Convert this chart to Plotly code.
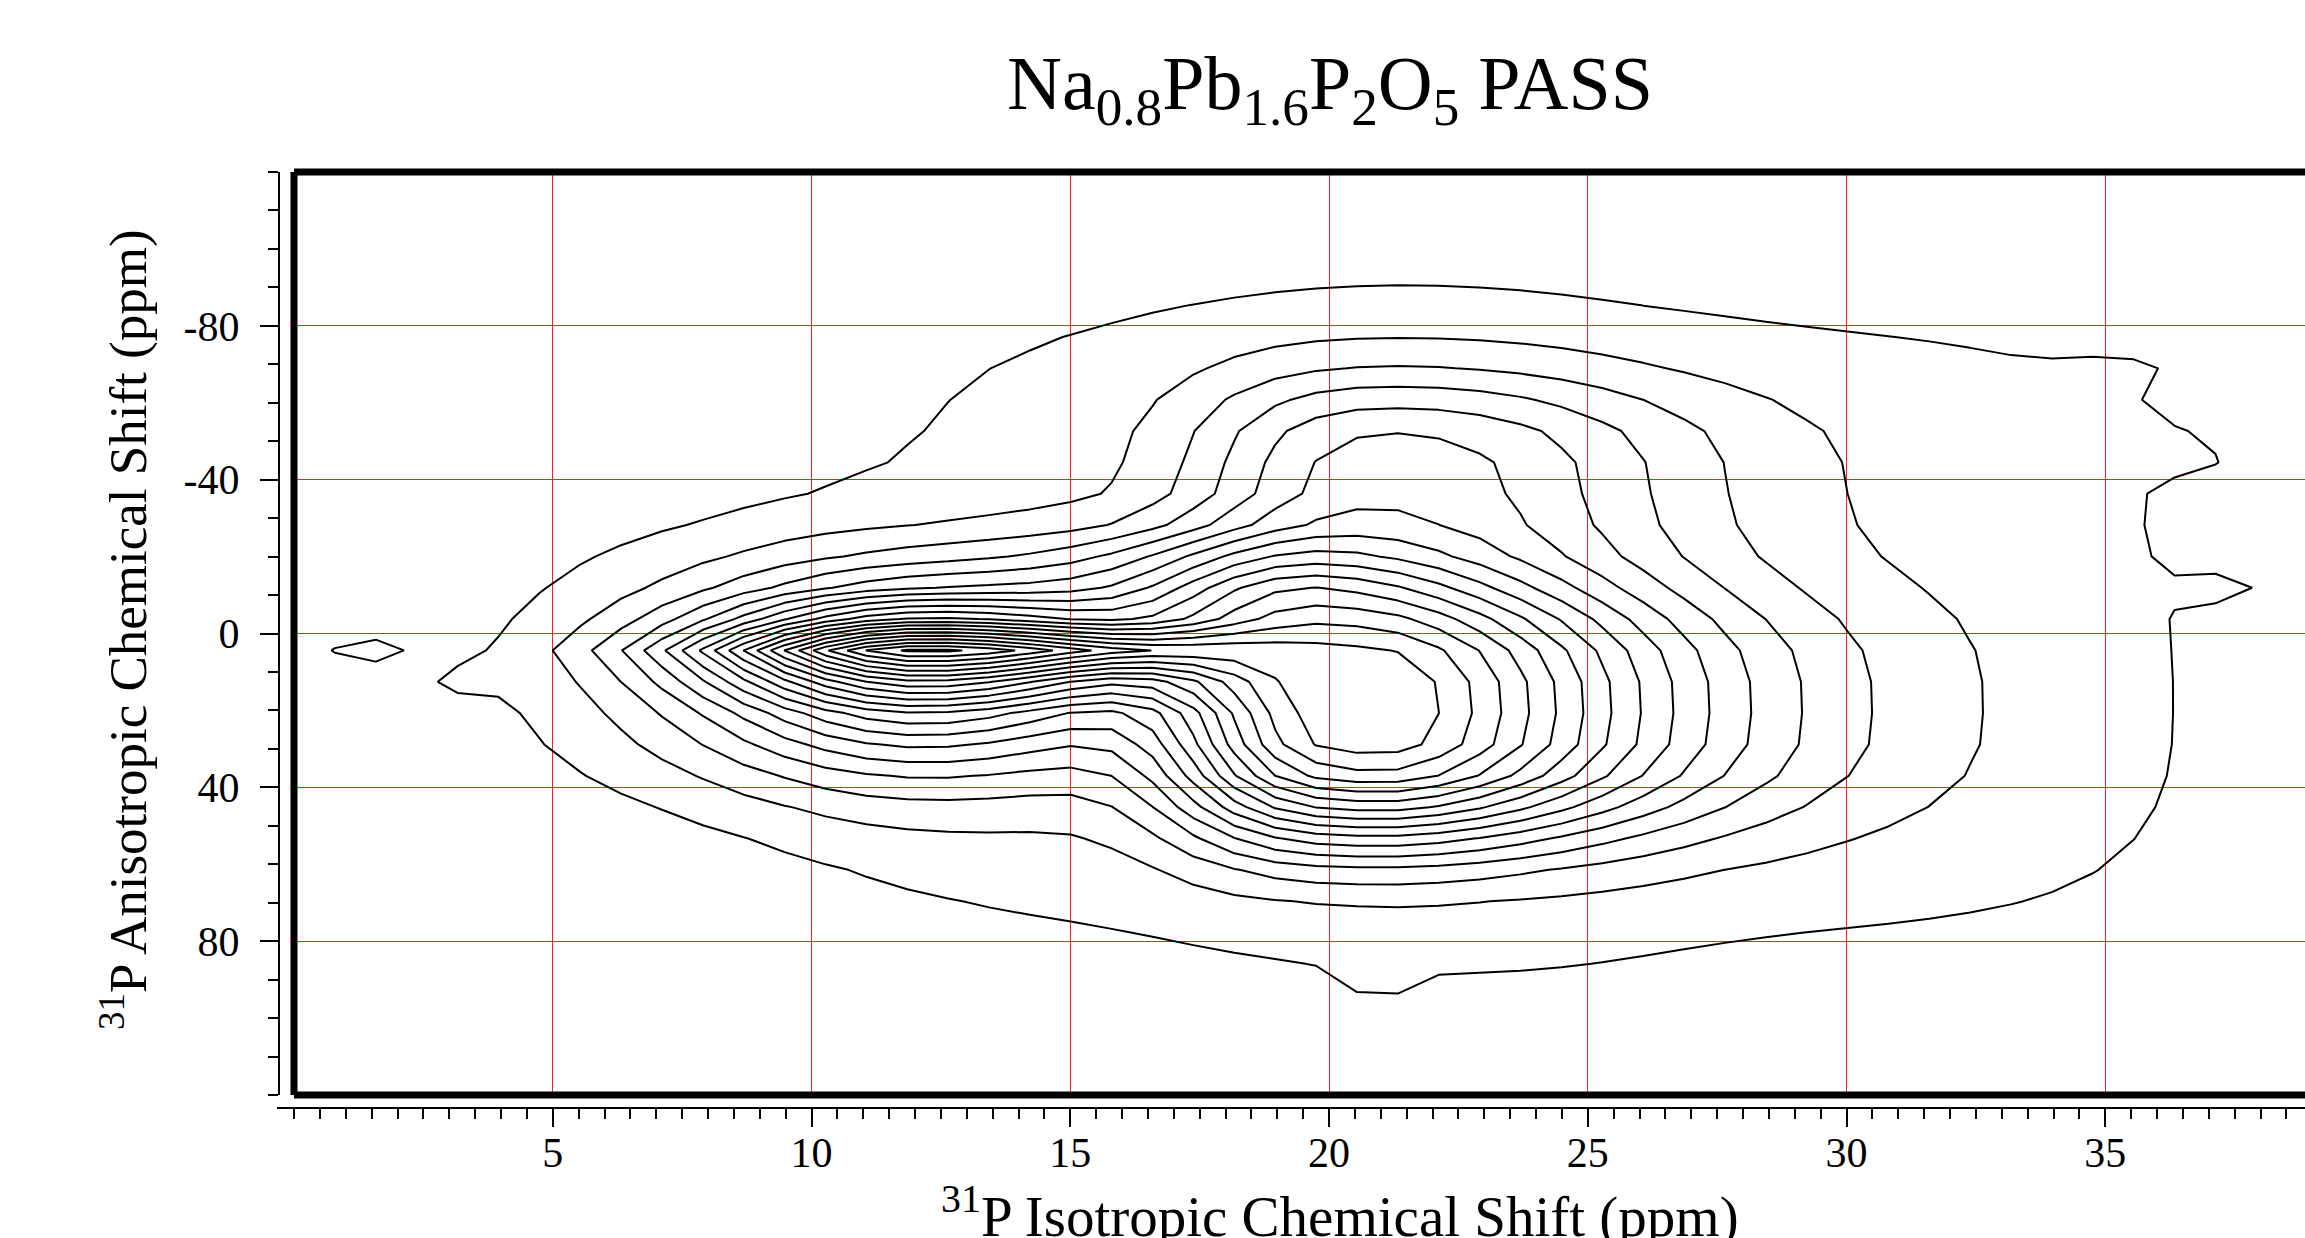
import numpy as np
import plotly.graph_objects as go

# ---------------- sampling of the 2D PASS spectrum (ppm) ----------------
iso_step = 0.79            # F2 (isotropic) point spacing
aniso_step = 8.15          # F1 (anisotropic) point spacing
iso_ppm = [round(iso_step * j, 3) for j in range(51)]
aniso_ppm = [round(4.4 + aniso_step * k, 3) for k in range(-15, 15)]

# ---------------- spectral components ----------------
# intensity expressed in contour-level units (levels 1..20)
site_name  = ["Q1 core", "Q1 body", "Q1 wing", "Q1' site", "upper ridge", "upper bridge",
              "broad plateau", "top halo", "bottom halo", "weak shoulder", "edge spur",
              "bottom notch", "right spike", "right bulge", "top-right corner"]
site_amp   = [9.1, 10.1, 1.3, 14.2, 5.1, 3.5, 1.5, 0.55, 0.4, 1.12, 0.6, 0.35, 0.45, 0.35, 0.3]
site_iso   = [12.2, 12.2, 8.0, 21.2, 21.3, 17.5, 23.5, 21.5, 22.5, 1.3, 3.1, 20.9, 37.5, 37.2, 35.6]
site_wl    = [3.0, 3.0, 3.5, 3.2, 2.9, 2.5, 12.0, 3.5, 3.5, 0.75, 0.6, 0.6, 0.7, 1.0, 1.0]    # iso width, low side
site_wr    = [5.28, 3.25, 3.5, 3.65, 4.1, 2.5, 12.7, 3.5, 3.5, 0.75, 0.6, 0.6, 0.7, 1.0, 1.0]  # iso width, high side
site_pl    = [2, 2, 2, 3, 2.5, 2, 5, 2, 2, 2, 2, 2, 2, 2, 2]
site_pr    = [5, 2, 2, 1.6, 2, 2, 5, 2, 2, 2, 2, 2, 2, 2, 2]
site_aniso = [4.4, 10.0, 8.0, 22.0, -38.0, -14.0, -2.0, -80.0, 85.0, 4.4, 12.55, 94.0, -11.9, -48.0, -68.0]
site_hu    = [5, 16, 32, 29.5, 23, 9, 78, 13, 12, 4, 3, 5, 4, 6, 5]                  # aniso width, neg side
site_hd    = [5, 14, 32, 23.8, 22, 8, 80, 13, 12, 4, 3, 5, 4, 6, 5]                  # aniso width, pos side
site_qu    = [2, 2, 3, 3.5, 3, 2, 5, 2, 2, 2, 2, 2, 2, 2, 2]
site_qd    = [2, 1.5, 3, 2.5, 3, 2, 5, 2, 2, 2, 2, 2, 2, 2, 2]

contour_start, contour_end, contour_step = 1, 20, 1

x_ticks = [5, 10, 15, 20, 25, 30, 35]
y_ticks = [-80, -40, 0, 40, 80]
x_range = [0, 38.86]
y_range = [120, -120]

title_text = "Na<sub>0.8</sub>Pb<sub>1.6</sub>P<sub>2</sub>O<sub>5</sub> PASS"
x_title = "<sup>31</sup>P Isotropic Chemical Shift (ppm)"
y_title = "<sup>31</sup>P Anisotropic Chemical Shift (ppm)"


def lobe(d, s_neg, s_pos, p_neg, p_pos):
    s = np.where(d < 0, s_neg, s_pos)
    p = np.where(d < 0, p_neg, p_pos)
    return np.exp(-0.5 * np.abs(d / s) ** p)


X, Y = np.meshgrid(np.array(iso_ppm), np.array(aniso_ppm))
Z = np.zeros_like(X)
for i in range(len(site_amp)):
    fx = lobe(X - site_iso[i], site_wl[i], site_wr[i], site_pl[i], site_pr[i])
    fy = lobe(Y - site_aniso[i], site_hu[i], site_hd[i], site_qu[i], site_qd[i])
    Z += site_amp[i] * fx * fy

W, H = 2305, 1238
ML, MR, MT, MB = 279, 0, 172, 130
PW, PH = W - ML - MR, H - MT - MB
frame_left_px, frame_bottom_px = 294, 1095


def px_x(p):
    return (p - ML) / PW


def px_y(p):
    return (H - MB - p) / PH


serif = "Liberation Serif, Times New Roman, serif"
red = "rgb(255,30,30)"

fig = go.Figure()
fig.add_trace(go.Contour(
    x=iso_ppm, y=aniso_ppm, z=Z,
    contours=dict(start=contour_start, end=contour_end, size=contour_step,
                  coloring="lines", showlabels=False),
    line=dict(width=2, smoothing=0),
    colorscale=[[0, "black"], [1, "black"]],
    showscale=False, hoverinfo="skip",
))

fig.update_layout(
    width=W, height=H,
    margin=dict(l=ML, r=MR, t=MT, b=MB, pad=0),
    paper_bgcolor="white", plot_bgcolor="white",
    showlegend=False,
    font=dict(family=serif, color="black"),
    title=dict(text=title_text, font=dict(family=serif, size=76, color="black"),
               x=1330 / W, xanchor="center", xref="container",
               y=1 - 82 / H, yanchor="middle", yref="container"),
    xaxis=dict(
        domain=[px_x(frame_left_px), 1], range=x_range, anchor="free", position=0,
        showline=True, linecolor="black", linewidth=2,
        ticks="outside", ticklen=18, tickwidth=2, tickcolor="black",
        tickvals=x_ticks, ticktext=[str(v) for v in x_ticks],
        tickfont=dict(family=serif, size=42, color="black"),
        ticklabelstandoff=-10,
        minor=dict(dtick=0.5, tick0=0, ticks="outside", ticklen=10, tickwidth=1.5,
                   tickcolor="black", showgrid=False),
        showgrid=True, gridcolor=red, gridwidth=1.4, zeroline=False,
    ),
    yaxis=dict(
        domain=[px_y(frame_bottom_px), 1], range=y_range, anchor="free", position=0,
        showline=True, linecolor="black", linewidth=2,
        ticks="outside", ticklen=18, tickwidth=2, tickcolor="black",
        tickvals=y_ticks, ticktext=[str(v) for v in y_ticks],
        tickfont=dict(family=serif, size=42, color="black"),
        ticklabelstandoff=12,
        minor=dict(dtick=10, tick0=0, ticks="outside", ticklen=10, tickwidth=1.5,
                   tickcolor="black", showgrid=False),
        showgrid=True, gridcolor=red, gridwidth=1.4, zeroline=False,
    ),
)

# thick frame (left, top, bottom)
fx0 = px_x(frame_left_px)
fyb = px_y(frame_bottom_px)
for (a, b, c, d) in [(fx0, fyb, fx0, 1.0), (fx0, 1.0, 1.02, 1.0), (fx0, fyb, 1.02, fyb)]:
    fig.add_shape(type="line", xref="paper", yref="paper", x0=a, y0=b, x1=c, y1=d,
                  line=dict(color="black", width=7), layer="above")
# short lead-in of the isotropic axis line left of the frame
fig.add_shape(type="line", xref="paper", yref="paper", x0=px_x(277), y0=0, x1=fx0, y1=0,
              line=dict(color="black", width=2))

# axis titles
fig.add_annotation(text=x_title, xref="paper", yref="paper",
                   x=px_x(1340), y=px_y(1212), xanchor="center", yanchor="middle",
                   showarrow=False, font=dict(family=serif, size=57, color="black"))
fig.add_annotation(text=y_title, xref="paper", yref="paper", textangle=-90,
                   x=px_x(124), y=px_y(630), xanchor="center", yanchor="middle",
                   showarrow=False, font=dict(family=serif, size=53, color="black"))

fig.write_html("out.html")
